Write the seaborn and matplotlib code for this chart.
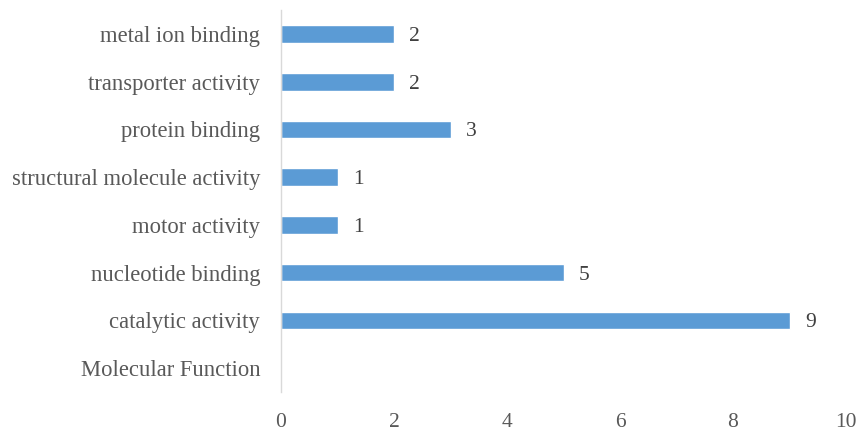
import matplotlib
matplotlib.use("Agg")
import matplotlib.pyplot as plt
import seaborn as sns
import pandas as pd

# GO molecular function term counts (listed top to bottom)
terms = [
    "metal ion binding",
    "transporter activity",
    "protein binding",
    "structural molecule activity",
    "motor activity",
    "nucleotide binding",
    "catalytic activity",
    "Molecular Function",
]
counts = [2, 2, 3, 1, 1, 5, 9, 0]
x_ticks = [0, 2, 4, 6, 8, 10]

sns.set_theme(style="white")
plt.rcParams["font.family"] = ["Liberation Serif", "DejaVu Serif"]

df = pd.DataFrame({"term": terms, "count": counts})

fig = plt.figure(figsize=(8.61, 4.34), dpi=100)
ax = fig.add_axes([0.3264, 0.0968, 0.6562, 0.880])

sns.barplot(data=df, x="count", y="term", order=terms, orient="h",
            color="#5B9BD5", saturation=1, width=0.37, ax=ax)

labels = [str(c) if c else "" for c in counts]
anns = ax.bar_label(ax.containers[0], labels=labels, padding=11,
                    fontsize=15.5, color="#404040")
for a in anns:
    a.set_verticalalignment("center_baseline")

ax.set_xlim(0, 10)
ax.set_ylim(7.5, -0.5)
ax.set_xticks(x_ticks)
ax.set_xticklabels([str(t) for t in x_ticks])
ax.set_xlabel("")
ax.set_ylabel("")

for side in ["top", "right", "bottom"]:
    ax.spines[side].set_visible(False)
ax.spines["left"].set_color("#d9d9d9")
ax.spines["left"].set_linewidth(1.0)

ax.tick_params(axis="y", length=0, pad=15, labelsize=16.3, labelcolor="#595959")
ax.tick_params(axis="x", length=0, pad=15, labelsize=15.5, labelcolor="#595959")
ax.grid(False)

fig.savefig("out.png", dpi=100, facecolor="white")
